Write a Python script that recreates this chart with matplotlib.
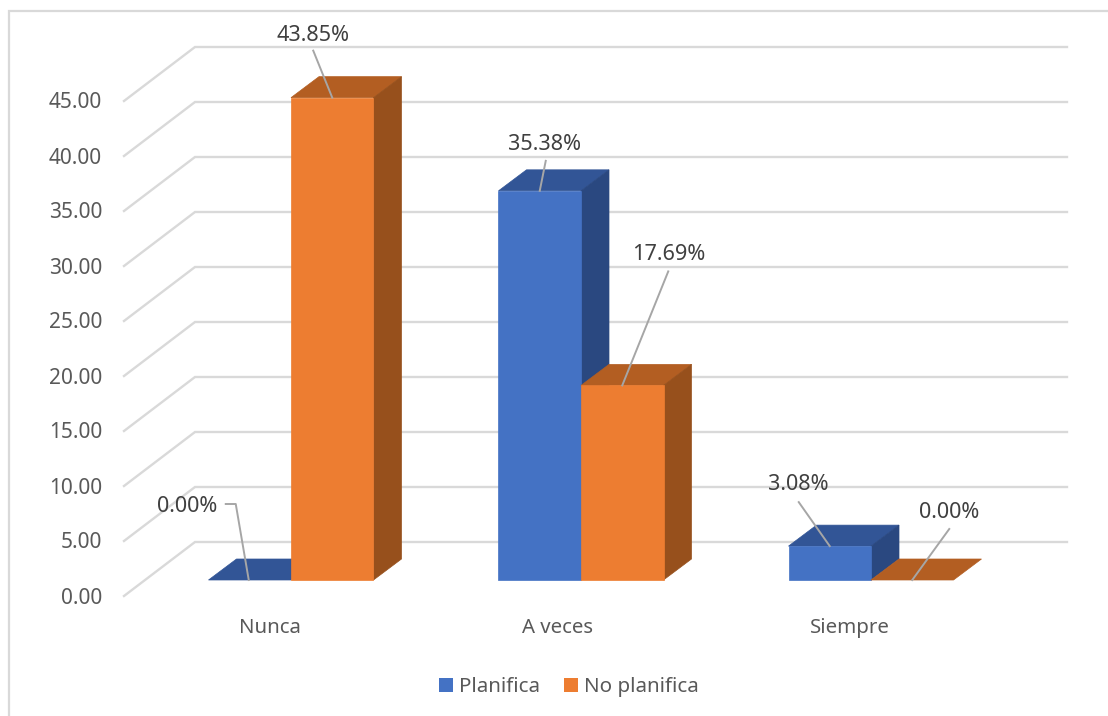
import numpy as np
import matplotlib
matplotlib.use("Agg")
import matplotlib.pyplot as plt
from matplotlib.patches import Polygon, Rectangle

plt.rcParams['font.family'] = ['Noto Sans', 'DejaVu Sans']

categories = ["Nunca", "A veces", "Siempre"]
series_names = ["Planifica", "No planifica"]
planifica = [0.00, 35.38, 3.08]
no_planifica = [43.85, 17.69, 0.00]
y_ticks = [0, 5, 10, 15, 20, 25, 30, 35, 40, 45]

W, H = 1108, 716
# one category is 290 px wide and one value unit 11 px high
XU, YU = 290.0, 11.0
X0, Y0 = 291.0, 580.0
BAR_W = 82.5 / XU
# oblique depth of a bar, in data units
DX, DY = 28 / XU, 21 / YU
FACES = {
    "Planifica": ("#4472c4", "#325596", "#2a4880"),
    "No planifica": ("#ed7d31", "#b35e22", "#97501c"),
}
GRID = "#d9d9d9"
TXT = "#595959"
LBL = "#404040"
LEADER = "#a6a6a6"


def px(x, y):
    # pixel position of the picture -> data units of the axes
    return (x - X0) / XU, (Y0 - y) / YU


fig = plt.figure(figsize=(W / 100, H / 100), dpi=100)
ax = fig.add_axes([0, 0, 1, 1])
ax.set_xlim(px(0, 0)[0], px(W, 0)[0])
ax.set_ylim(px(0, H)[1], px(0, 0)[1])
ax.axis("off")

# chart border, runs off the right and bottom of the picture
x1, y1 = px(9.5, 11)
x2, y2 = px(1130, 740)
ax.add_patch(Rectangle((x1, y2), x2 - x1, y1 - y2, fc="white", ec=GRID, lw=1.6, zorder=0))

# walls: the gridlines start on the front edge and run along the back wall
fx, back_x = px(124, 0)[0], px(195, 0)[0]
end_x = px(1067, 0)[0]
fdy, bdy = -16 / YU, 38 / YU
for v in y_ticks:
    ax.plot([fx, back_x, end_x], [v + fdy, v + bdy, v + bdy], color=GRID, lw=1.7,
            solid_joinstyle="miter", zorder=1)
    ax.text(px(102, 0)[0], v + fdy - 7.5 / YU, "%.2f" % v, ha="right", va="baseline",
            fontsize=15, color=TXT)


def bar3d(x, v, name, z):
    front, top, side = FACES[name]
    r = x + BAR_W
    ax.add_patch(Polygon([(x, v), (x + DX, v + DY), (r + DX, v + DY), (r, v)], fc=top, ec=top, lw=0.5, zorder=z))
    if v > 0:
        ax.add_patch(Polygon([(r, 0), (r + DX, DY), (r + DX, v + DY), (r, v)], fc=side, ec=side, lw=0.5, zorder=z))
        ax.add_patch(Rectangle((x, 0), BAR_W, v, fc=front, ec=front, lw=0.5, zorder=z + 0.1))


cat_offset = [-21.5, -24, -21]
for i in range(len(categories)):
    bar3d(i - BAR_W, planifica[i], series_names[0], 2 + i)
    bar3d(i, no_planifica[i], series_names[1], 2.5 + i)
    ax.text(i + cat_offset[i] / XU, -53 / YU, categories[i], ha="center", va="baseline", fontsize=14.7, color=TXT)

# data labels: (bar x, value, label offset from bar top, leader start offset), offsets in px
labels = [
    (0 - BAR_W, planifica[0], (-62, 75), (-23, 76)),
    (0, no_planifica[0], (-19, 64), (-19, 47)),
    (1 - BAR_W, planifica[1], (5, 48), (6, 30)),
    (1, no_planifica[1], (46, 132), (46, 114)),
    (2 - BAR_W, planifica[2], (-31, 63), (-31, 44)),
    (2, no_planifica[2], (37, 69), (37, 51)),
]
for x, v, lab, lead in labels:
    ax0, ay0 = x + BAR_W / 2, v
    if v == 0 and x < 0:
        ax0 -= 1 / XU
    pts = [(ax0, ay0), (ax0 + lead[0] / XU, ay0 + lead[1] / YU)]
    if v == 0 and x < 0:
        pts = [(ax0, ay0), (ax0 - 13 / XU, ay0 + lead[1] / YU), (ax0 + lead[0] / XU, ay0 + lead[1] / YU)]
    ax.plot([p[0] for p in pts], [p[1] for p in pts], color=LEADER, lw=1.4, zorder=10)
    ax.text(ax0 + lab[0] / XU, ay0 + (lab[1] - 1.5) / YU, "%.2f%%" % v, ha="center", va="center",
            fontsize=15.6, color=LBL, zorder=11)

# legend
for name, (sx, tx) in zip(series_names, [(439, 459), (564, 584)]):
    lx, ly = px(sx, 692)
    ax.add_patch(Rectangle((lx, ly), 14 / XU, 14 / YU, fc=FACES[name][0], ec="none"))
    ax.text(px(tx, 0)[0], px(0, 692)[1], name, ha="left", va="baseline", fontsize=14.8, color=TXT)

fig.savefig("out.png", dpi=100)
